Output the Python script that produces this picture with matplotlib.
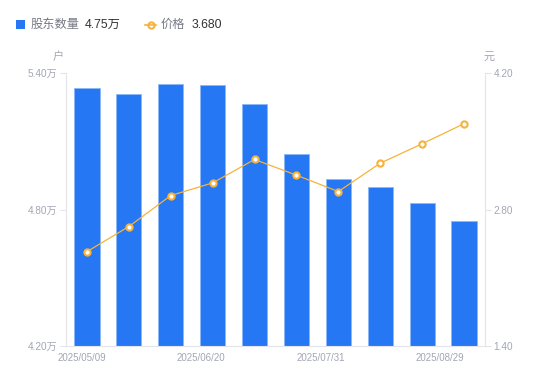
import matplotlib
matplotlib.use("Agg")
import matplotlib.pyplot as plt
from matplotlib.lines import Line2D

plt.rcParams['font.family'] = ['Liberation Sans', 'Noto Sans CJK SC', 'DejaVu Sans']

dates = ["2025/05/09", "2025/05/23", "2025/06/06", "2025/06/20", "2025/07/04",
         "2025/07/18", "2025/07/31", "2025/08/08", "2025/08/15", "2025/08/29"]
holders = [5.334, 5.306, 5.350, 5.346, 5.263, 5.043, 4.932, 4.901, 4.829, 4.75]  # 万户
price = [2.368, 2.625, 2.943, 3.073, 3.313, 3.152, 2.984, 3.275, 3.474, 3.680]
left_ticks = [4.20, 4.80, 5.40]
right_ticks = [1.40, 2.80, 4.20]
xtick_labels = ["2025/05/09", "2025/06/20", "2025/07/31", "2025/08/29"]
xtick_pos = [-0.12, 2.73, 5.58, 8.43]

W, H = 550, 381
fig = plt.figure(figsize=(W/100, H/100), dpi=100)
ax = fig.add_axes([66/W, 1-346/H, 419/W, 273/H])
ax2 = ax.twinx()

blue = '#2577F4'
orange = '#F7B23B'
axcol = '#e3e5ea'
tcol = '#a3a6b4'

x = list(range(len(dates)))
ax.bar(x, holders, width=0.6, color=blue, edgecolor='#8cb8fa', linewidth=0.6, zorder=2)
ax.set_ylim(4.20, 5.40)
ax.set_xlim(-0.5, 9.5)
ax2.set_ylim(1.40, 4.20)
ax2.plot(x, price, color=orange, linewidth=0.9, marker='o', markersize=4.5,
         markerfacecolor='white', markeredgecolor=orange, markeredgewidth=1.5, zorder=3)

for a in (ax, ax2):
    for s in a.spines.values():
        s.set_visible(False)
ax.spines['left'].set_visible(True)
ax.spines['left'].set_color(axcol)
ax.spines['bottom'].set_visible(True)
ax.spines['bottom'].set_color(axcol)
ax2.spines['right'].set_visible(True)
ax2.spines['right'].set_color(axcol)

ax.set_yticks(left_ticks)
ax.set_yticklabels([f"{v:.2f}万" for v in left_ticks])
ax2.set_yticks(right_ticks)
ax2.set_yticklabels([f"{v:.2f}" for v in right_ticks])
ax.tick_params(axis='y', length=4, color=axcol, labelcolor=tcol, labelsize=7.2, pad=2)
ax2.tick_params(axis='y', length=4, color=axcol, labelcolor=tcol, labelsize=7.2, pad=2)
ax.set_xticks(xtick_pos)
ax.set_xticklabels(xtick_labels)
ax.tick_params(axis='x', length=0, labelcolor=tcol, labelsize=7, pad=5)

fig.text(58/W, 1-57/H, "户", ha='center', va='center', fontsize=8, color=tcol)
fig.text(489/W, 1-57/H, "元", ha='center', va='center', fontsize=8, color=tcol)

# legend
fig.patches.append(matplotlib.patches.Rectangle((16/W, 1-29/H), 9/W, 9/H, transform=fig.transFigure,
                                                 facecolor=blue, edgecolor='none'))
fig.text(31/W, 1-24.5/H, "股东数量", ha='left', va='center', fontsize=8.8, color='#777a85')
fig.text(85/W, 1-24.5/H, "4.75万", ha='left', va='center', fontsize=8.8, color='#333333')
fig.lines.append(Line2D([145/W, 156/W], [1-24.5/H, 1-24.5/H], transform=fig.transFigure,
                        color=orange, linewidth=1.2, zorder=5))
fig.lines.append(Line2D([150.5/W], [1-24.5/H], transform=fig.transFigure, color=orange,
                        marker='o', markersize=4.5, markerfacecolor='white', markeredgewidth=1.5,
                        linestyle='none'))
fig.text(161/W, 1-24.5/H, "价格", ha='left', va='center', fontsize=8.8, color='#777a85')
fig.text(192/W, 1-24.5/H, "3.680", ha='left', va='center', fontsize=8.8, color='#333333')

fig.savefig("out.png", dpi=100)
